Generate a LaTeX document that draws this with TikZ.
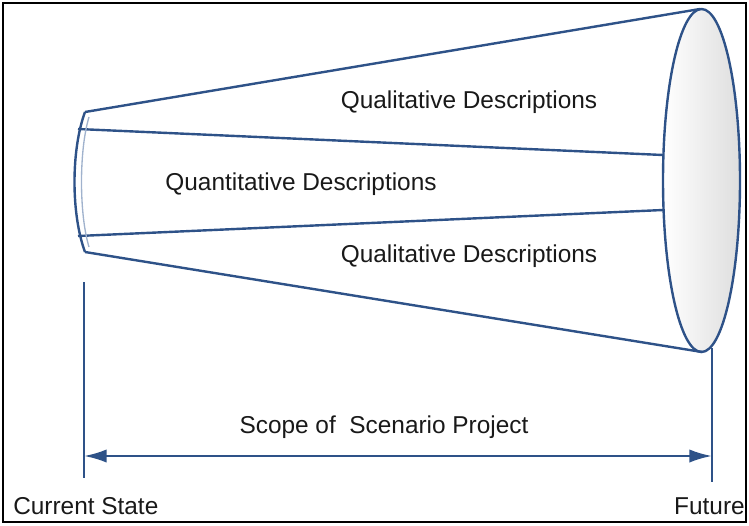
\documentclass[tikz,border=0pt]{standalone}
\usepackage{fontspec}
\setmainfont{Liberation Sans}
\usetikzlibrary{arrows.meta}
\definecolor{conecol}{RGB}{46,82,136}
\definecolor{conelight}{RGB}{160,178,205}
\tikzset{
  edge/.style={conecol, line width=1.8},
  desc/.style={font=\fontsize{18.3}{20}\selectfont, text=black!90, inner sep=0pt, anchor=base}
}

\begin{document}
\begin{tikzpicture}[x=0.75pt, y=-0.75pt]
  \useasboundingbox (0,0) rectangle (749,525);
  \draw [black, line width=1.5] (3,3) rectangle (746,522);
  \coordinate (tl) at (85,112);
  \coordinate (bl) at (85,252);
  \coordinate (tr) at (700,9);
  \coordinate (br) at (702,352);
  \coordinate (ul) at (78,129);
  \coordinate (ur) at (663,155);
  \coordinate (ll) at (78,236);
  \coordinate (lr) at (663,210);
  \shade [left color=white, right color=black!13] (701.5,180.5) ellipse (38.5 and 171.5);
  \draw [edge] (tl) -- (tr);
  \draw [edge] (bl) -- (br);
  \draw [edge] (ul) -- (ur);
  \draw [edge] (ll) -- (lr);
  \draw [conelight, line width=1] (89,117) .. controls (79,150) and (79,214) .. (89,247);
  \draw [edge] (tl) .. controls (71,150) and (71,214) .. (bl);
  \draw [edge] (701.5,180.5) ellipse (38.5 and 171.5);
  \node [desc] (qual1) at (469,108) {Qualitative Descriptions};
  \node [desc] (quant) at (301,190) {Quantitative Descriptions};
  \node [desc] (qual2) at (469,262) {Qualitative Descriptions};
  \coordinate (now top) at (84,282);
  \coordinate (now bot) at (84,478);
  \coordinate (fut top) at (712,348);
  \coordinate (fut bot) at (712,482);
  \draw [edge] (now top) -- (now bot);
  \draw [edge] (fut top) -- (fut bot);
  \coordinate (now) at (84,456);
  \coordinate (fut) at (712,456);
  \draw [edge, {Latex[length=17pt, width=10pt]}-{Latex[length=17pt, width=10pt]}] (now) -- (fut);
  \node [desc] (scope) at (384,433) {Scope of\ \ Scenario Project};
  \node [desc, anchor=base west] (current) at (13,514) {Current State};
  \node [desc, anchor=base east] (future) at (745,514) {Future};
\end{tikzpicture}
\end{document}
